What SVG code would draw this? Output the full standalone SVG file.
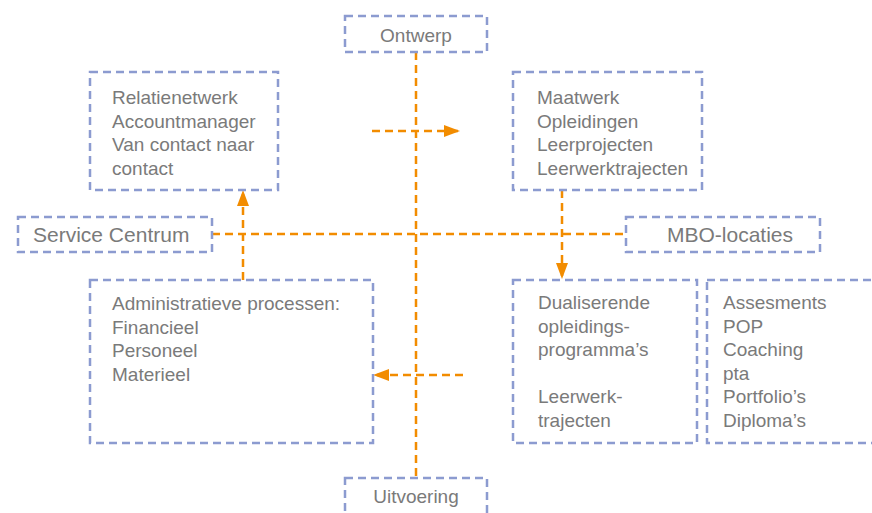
<svg xmlns="http://www.w3.org/2000/svg" width="872" height="513" viewBox="0 0 872 513">
<style>
.box{fill:none;stroke:#8c9bd0;stroke-width:2.5;stroke-dasharray:8 5}
.t{font-family:"Liberation Sans",Arial,sans-serif;font-size:19px;fill:#7a7a7a}
.big{font-size:21px}
.c{stroke:#f28c00;stroke-width:2.5;stroke-dasharray:8 5;fill:none}
</style>
<defs>
<marker id="ah" viewBox="0 0 16 12" refX="16" refY="6" markerWidth="16" markerHeight="12" markerUnits="userSpaceOnUse" orient="auto">
<path d="M0,0 L16,6 L0,12 Z" fill="#f28c00"/>
</marker>
</defs>
<rect width="872" height="513" fill="#fff"/>
<g id="connectors">
<line class="c" x1="416" y1="52" x2="416" y2="478"/>
<line class="c" x1="212" y1="234" x2="626" y2="234"/>
<line class="c" x1="372" y1="131" x2="460" y2="131" marker-end="url(#ah)"/>
<line class="c" x1="243" y1="280" x2="243" y2="190" marker-end="url(#ah)"/>
<line class="c" x1="562" y1="190" x2="562" y2="279" marker-end="url(#ah)"/>
<line class="c" x1="463" y1="375" x2="373" y2="375" marker-end="url(#ah)"/>
</g>
<g id="ontwerp">
<rect class="box" x="345" y="16" width="142" height="36"/>
<text class="t" x="416" y="42" text-anchor="middle">Ontwerp</text>
</g>
<g id="relatie">
<rect class="box" x="90" y="72" width="188" height="118"/>
<text class="t" x="112" y="104">Relatienetwerk</text>
<text class="t" x="112" y="128">Accountmanager</text>
<text class="t" x="112" y="151">Van contact naar</text>
<text class="t" x="112" y="175">contact</text>
</g>
<g id="maatwerk">
<rect class="box" x="513" y="72" width="189" height="118"/>
<text class="t" x="537" y="104">Maatwerk</text>
<text class="t" x="537" y="128">Opleidingen</text>
<text class="t" x="537" y="151">Leerprojecten</text>
<text class="t" x="537" y="175">Leerwerktrajecten</text>
</g>
<g id="service">
<rect class="box" x="18" y="217" width="194" height="35"/>
<text class="t big" x="33" y="242">Service Centrum</text>
</g>
<g id="mbo">
<rect class="box" x="626" y="217" width="194" height="35"/>
<text class="t big" x="730" y="242" text-anchor="middle">MBO-locaties</text>
</g>
<g id="admin">
<rect class="box" x="90" y="280" width="283" height="163"/>
<text class="t" x="112" y="310">Administratieve processen:</text>
<text class="t" x="112" y="334">Financieel</text>
<text class="t" x="112" y="357">Personeel</text>
<text class="t" x="112" y="381">Materieel</text>
</g>
<g id="dual">
<rect class="box" x="513" y="280" width="184" height="163"/>
<text class="t" x="538" y="309">Dualiserende</text>
<text class="t" x="538" y="333">opleidings-</text>
<text class="t" x="538" y="356">programma’s</text>
<text class="t" x="538" y="403">Leerwerk-</text>
<text class="t" x="538" y="427">trajecten</text>
</g>
<g id="assess">
<rect class="box" x="707" y="280" width="180" height="163"/>
<text class="t" x="723" y="309">Assesments</text>
<text class="t" x="723" y="333">POP</text>
<text class="t" x="723" y="356">Coaching</text>
<text class="t" x="723" y="380">pta</text>
<text class="t" x="723" y="403">Portfolio’s</text>
<text class="t" x="723" y="427">Diploma’s</text>
</g>
<g id="uitvoering">
<rect class="box" x="345" y="478" width="142" height="50"/>
<text class="t" x="416" y="503" text-anchor="middle">Uitvoering</text>
</g>
</svg>
